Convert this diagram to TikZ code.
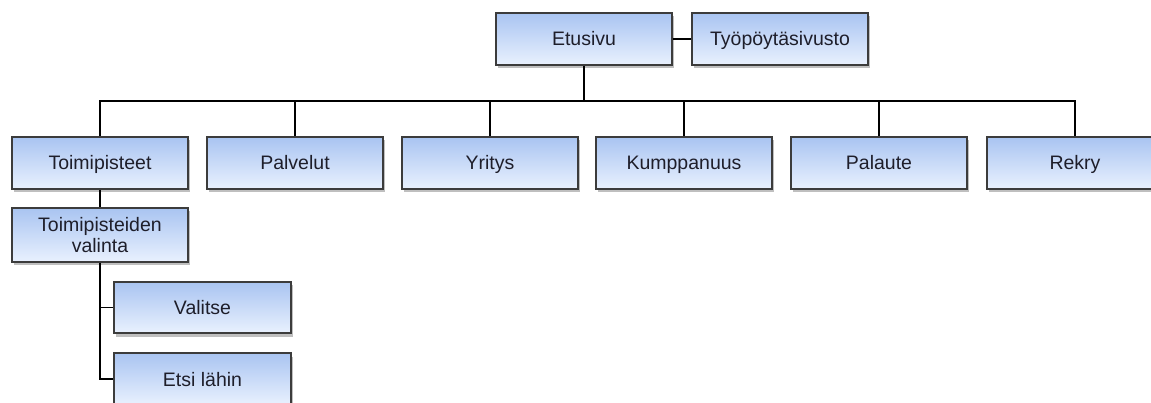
\documentclass[tikz,border=0pt]{standalone}
\usepackage{fontspec}
\setmainfont{Liberation Sans}
\usetikzlibrary{shadows}
\definecolor{boxtop}{HTML}{A9C4F1}
\definecolor{boxbot}{HTML}{E9F1FE}
\definecolor{boxline}{HTML}{3C3C3C}
\definecolor{txt}{HTML}{1E1E2A}
\tikzset{
  pbox/.style={draw=boxline, line width=1.6pt, top color=boxtop, bottom color=boxbot,
    minimum width=176pt, minimum height=52pt, inner sep=2pt, align=center,
    font=\fontsize{19.5}{21.5}\selectfont, text=txt, text height=17pt, text depth=3pt,
    drop shadow={shadow xshift=1.5pt, shadow yshift=-3.5pt, fill=black, opacity=0.25}},
  conn/.style={draw=black, line width=1.2pt}
}
\begin{document}
\begin{tikzpicture}[x=1pt,y=-1pt]
\useasboundingbox (0,0) rectangle (1151,403);
\node[pbox] (e) at (584,39) {Etusivu};
\node[pbox] (ty) at (780,39) {Työpöytäsivusto};
\node[pbox] (t) at (100,163) {Toimipisteet};
\node[pbox] (p) at (295,163) {Palvelut};
\node[pbox] (y) at (490,163) {Yritys};
\node[pbox] (k) at (684,163) {Kumppanuus};
\node[pbox] (pa) at (879,163) {Palaute};
\node[pbox] (r) at (1075,163) {Rekry};
\node[pbox, minimum height=54pt, text height=, text depth=] (tv) at (100,235) {Toimipisteiden\\valinta};
\node[pbox, minimum width=177pt, minimum height=51pt] (va) at (202.5,307.5) {Valitse};
\node[pbox, minimum width=177pt] (el) at (202.5,379) {Etsi lähin};
\coordinate (bus) at (0,101);
\draw[conn] (e.east) -- (ty.west);
\draw[conn] (e.south) -- (e.south |- bus);
\draw[conn] (t.north) -- (t.north |- bus) -- (r.north |- bus) -- (r.north);
\foreach \n in {p,y,k,pa} \draw[conn] (\n.north) -- (\n.north |- bus);
\draw[conn] (t.south) -- (tv.north);
\draw[conn] (tv.south) |- (va.west);
\draw[conn] (tv.south) |- (el.west);
\end{tikzpicture}
\end{document}
